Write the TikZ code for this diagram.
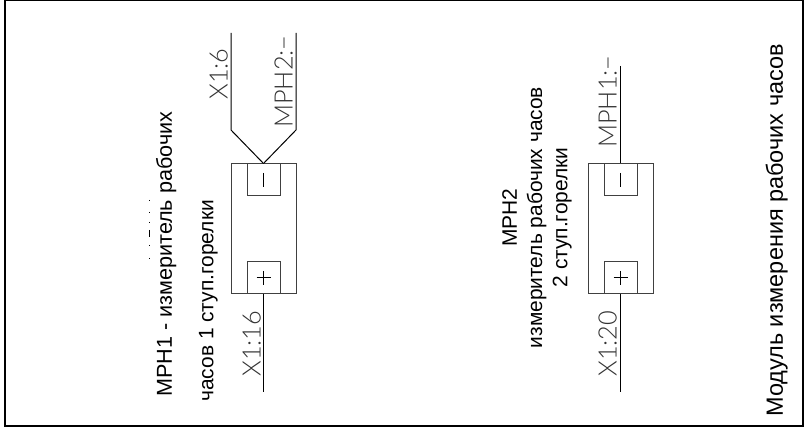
\documentclass[tikz,border=0pt]{standalone}
\usepackage{fontspec}
\setmainfont{Liberation Sans}
\newfontfamily\thinfont{Lato Light}
\tikzset{
  px/.style={x=0.75pt,y=-0.75pt},
  wire/.style={draw=black,line width=0.75pt},
  boxline/.style={draw=black!75,line width=0.75pt},
  frameline/.style={draw=black,line width=1pt},
  captext/.style={rotate=90,align=center,inner sep=0pt,text=black},
  term/.style={rotate=90,font=\thinfont\fontsize{19pt}{19pt}\selectfont,inner sep=0pt,text=black!80},
}
\begin{document}
\begin{tikzpicture}[px]
\useasboundingbox (0,0) rectangle (804,427);
\draw[frameline] (5,0.5) rectangle (803,426);
% module 1
\node[boxline,draw,rectangle,minimum width=48.75pt,minimum height=97.5pt,inner sep=0pt] (b1) at (263.5,229) {};
\node[boxline,draw,rectangle,minimum width=24.75pt,minimum height=24pt,inner sep=0pt] (m1) at (263.5,180) {};
\node[boxline,draw,rectangle,minimum width=24.75pt,minimum height=24pt,inner sep=0pt] (p1) at (263.5,278) {};
\draw[wire] (263.5,173) -- (263.5,187) ;
\draw[wire] (263.5,271) -- (263.5,285) (256.5,278) -- (270.5,278);
\coordinate (a1) at (231,33); \coordinate (a2) at (231,130);
\coordinate (c1) at (296,33); \coordinate (c2) at (296,130);
\coordinate (e1) at (263.5,392);
\draw[wire] (a1) -- (a2) -- (b1.north);
\draw[wire] (c1) -- (c2) -- (b1.north);
\draw[wire] (b1.south) -- (e1);
% module 2
\node[boxline,draw,rectangle,minimum width=48.75pt,minimum height=97.5pt,inner sep=0pt] (b2) at (620.5,229) {};
\node[boxline,draw,rectangle,minimum width=24.75pt,minimum height=24pt,inner sep=0pt] (m2) at (620.5,180) {};
\node[boxline,draw,rectangle,minimum width=24.75pt,minimum height=24pt,inner sep=0pt] (p2) at (620.5,278) {};
\draw[wire] (620.5,173) -- (620.5,187);
\draw[wire] (620.5,271) -- (620.5,285) (613.5,278) -- (627.5,278);
\coordinate (f1) at (620.5,66); \coordinate (g1) at (620.5,392);
\draw[wire] (f1) -- (b2.north);
\draw[wire] (b2.south) -- (g1);
% terminal labels
\node[term,anchor=south west] (t1) at (228,100) {X1:6};
\node[term,anchor=south west] (t2) at (293,128) {MPH2:−};
\node[term,anchor=south west] (t3) at (261,377) {X1:16};
\node[term,anchor=south west] (t4) at (617,377) {X1:20};
\node[term,anchor=south west] (t5) at (617,148) {MPH1:−};
% captions
\node[captext,anchor=south west,font=\fontsize{16.2pt}{19pt}\selectfont] (c1t) at (176.5,397) {МРН1 - измеритель рабочих};
\node[captext,anchor=south west,font=\fontsize{15.7pt}{19pt}\selectfont] (c2t) at (218,402) {часов 1 ступ.горелки};
\node[captext,font=\fontsize{15.7pt}{19pt}\selectfont] (c3t) at (537,217.5) {МРН2\\измеритель рабочих часов\\2 ступ.горелки};
\node[captext,anchor=south west,font=\fontsize{17.6pt}{21pt}\selectfont] (c4t) at (788,417) {Модуль измерения рабочих часов};
% remnants
\draw[black,line width=0.5pt] (149,200) -- (149,201) (149,212) -- (149,213) (149,222) -- (149,223) (149,230) -- (149,237) (149,245) -- (149,246) (149,258) -- (149,259);
\end{tikzpicture}
\end{document}
